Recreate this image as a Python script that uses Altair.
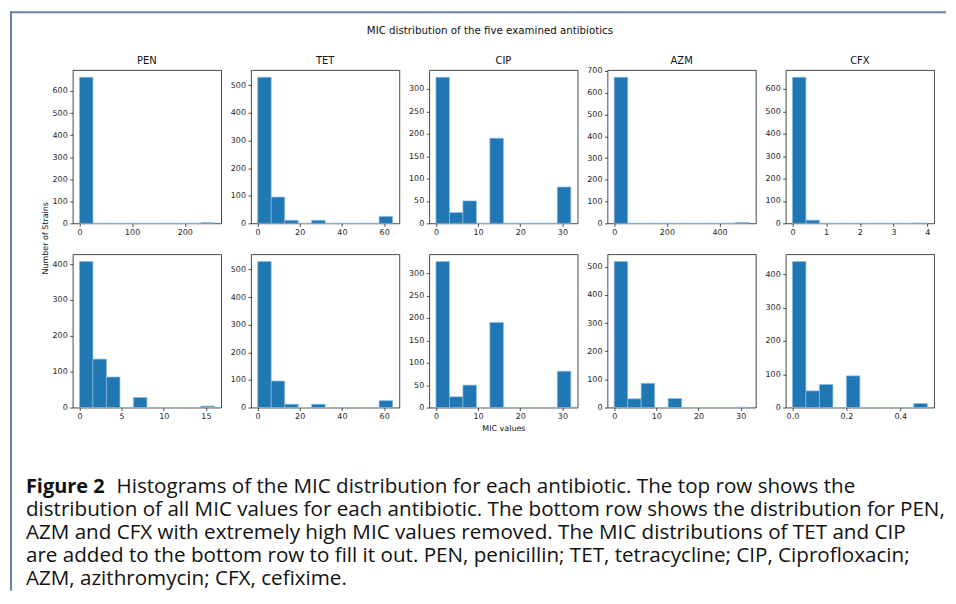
import altair as alt
import numpy as np
import pandas as pd

NAMES = ["PEN", "TET", "CIP", "AZM", "CFX"]

# top row: all MIC values (10 bins between min and max)
TOP_RANGE = {"PEN": (0, 256), "TET": (0.125, 64), "CIP": (0, 32), "AZM": (0, 512), "CFX": (0, 4)}
TOP_COUNTS = {
    "PEN": [662, 0, 0, 0, 0, 0, 0, 0, 0, 3],
    "TET": [529, 95, 11, 0, 11, 0, 0, 0, 0, 25],
    "CIP": [326, 24, 50, 0, 190, 0, 0, 0, 0, 81],
    "AZM": [671, 0, 0, 0, 0, 0, 0, 0, 0, 4],
    "CFX": [652, 14, 0, 0, 0, 0, 0, 0, 0, 1],
}
TOP_XTICKS = {"PEN": [0, 100, 200], "TET": [0, 20, 40, 60], "CIP": [0, 10, 20, 30],
              "AZM": [0, 200, 400], "CFX": [0, 1, 2, 3, 4]}
TOP_YTICKS = {"PEN": [0, 100, 200, 300, 400, 500, 600], "TET": [0, 100, 200, 300, 400, 500],
              "CIP": [0, 50, 100, 150, 200, 250, 300], "AZM": [0, 100, 200, 300, 400, 500, 600, 700],
              "CFX": [0, 100, 200, 300, 400, 500, 600]}

# bottom row: extreme values removed for PEN, AZM, CFX
BOT_RANGE = {"PEN": (0, 16), "TET": (0.125, 64), "CIP": (0, 32), "AZM": (0, 32), "CFX": (0, 0.5)}
BOT_COUNTS = {
    "PEN": [407, 135, 85, 0, 28, 0, 0, 0, 0, 4],
    "TET": [529, 96, 12, 0, 12, 0, 0, 0, 0, 25],
    "CIP": [326, 24, 50, 0, 190, 0, 0, 0, 0, 81],
    "AZM": [519, 31, 86, 0, 32, 0, 0, 0, 0, 1],
    "CFX": [438, 50, 69, 0, 95, 0, 0, 0, 0, 12],
}
BOT_XTICKS = {"PEN": [0, 5, 10, 15], "TET": [0, 20, 40, 60], "CIP": [0, 10, 20, 30],
              "AZM": [0, 10, 20, 30], "CFX": [0.0, 0.2, 0.4]}
BOT_YTICKS = {"PEN": [0, 100, 200, 300, 400], "TET": [0, 100, 200, 300, 400, 500],
              "CIP": [0, 50, 100, 150, 200, 250, 300], "AZM": [0, 100, 200, 300, 400, 500],
              "CFX": [0, 100, 200, 300, 400]}
BOT_XFMT = {"CFX": ".1f"}

SUPTITLE = "MIC distribution of the five examined antibiotics"
YLABEL = "Number of Strains"
XLABEL = "MIC values"
CAPTION_BOLD = "Figure 2"
CAPTION_LINES = [
    "Histograms of the MIC distribution for each antibiotic. The top row shows the",
    "distribution of all MIC values for each antibiotic. The bottom row shows the distribution for PEN,",
    "AZM and CFX with extremely high MIC values removed. The MIC distributions of TET and CIP",
    "are added to the bottom row to fill it out. PEN, penicillin; TET, tetracycline; CIP, Ciprofloxacin;",
    "AZM, azithromycin; CFX, cefixime.",
]

BLUE = "#1f77b4"
W, H = 149, 154
MPL_FONT = "DejaVu Sans"
CAP_FONT = "Open Sans"
CAP_SIZE = 20.7


def axis(values, fmt=None):
    kw = dict(values=values, grid=False, domain=False, tickSize=3, tickWidth=0.8,
              tickColor="#222", labelFontSize=8, labelFont=MPL_FONT, labelColor="#222",
              labelPadding=2.5, title=None, labelFlush=False, labelOverlap=False)
    if fmt:
        kw["format"] = fmt
    return alt.Axis(**kw)


def panel(rng, counts, xticks, yticks, xfmt=None):
    lo, hi = rng
    edges = np.linspace(lo, hi, len(counts) + 1)
    df = pd.DataFrame({"x0": edges[:-1], "x1": edges[1:], "count": counts})
    span = hi - lo
    xdom = [lo - 0.05 * span, hi + 0.05 * span]
    ydom = [0, 1.05 * max(counts)]
    return alt.Chart(df).mark_bar(color=BLUE, stroke="#8fb8de", strokeWidth=0.7).encode(
        x=alt.X("x0:Q", scale=alt.Scale(domain=xdom, nice=False, zero=False), axis=axis(xticks, xfmt)),
        x2="x1:Q",
        y=alt.Y("count:Q", scale=alt.Scale(domain=ydom, nice=False, zero=True), axis=axis(yticks)),
        y2=alt.datum(0),
    ).properties(width=W, height=H)


one = pd.DataFrame({"k": [0]})


def txt(s, x, y, size, font, weight="normal", align="left", baseline="alphabetic", angle=0, color="#111"):
    return alt.Chart(one).mark_text(text=s, fontSize=size, font=font, fontWeight=weight, align=align,
                                    baseline=baseline, angle=angle, color=color).encode(
        x=alt.value(x), y=alt.value(y))


# annotation marks placed relative to the bottom-left panel's plot area (page x=71, y=252)
OX, OY = 71, 252
ann = [
    alt.Chart(one).mark_rule(color="#6683a3", strokeWidth=2).encode(
        x=alt.value(9 - OX), y=alt.value(8 - OY), y2=alt.value(590 - OY)),
    alt.Chart(one).mark_rule(color="#6683a3", strokeWidth=2).encode(
        x=alt.value(8 - OX), x2=alt.value(948 - OX), y=alt.value(9 - OY)),
    txt(SUPTITLE, 490 - OX, 27.5 - OY, 10.3, MPL_FONT, align="center", baseline="middle"),
    txt(YLABEL, 44 - OX, 236 - OY, 8, MPL_FONT, align="center", baseline="middle", angle=270),
    txt(XLABEL, 504 - OX, 428 - OY, 8, MPL_FONT, align="center", baseline="middle"),
    txt(CAPTION_BOLD, 24 - OX, 492 - OY, 20, CAP_FONT, weight="bold"),
]
base_lines = [492, 515, 538, 561, 584]
for i, line in enumerate(CAPTION_LINES):
    x0 = 115 if i == 0 else 24
    ann.append(txt(line, x0 - OX, base_lines[i] - OY, CAP_SIZE, CAP_FONT))

panels = []
for n in NAMES:
    t = panel(TOP_RANGE[n], TOP_COUNTS[n], TOP_XTICKS[n], TOP_YTICKS[n])
    t = alt.layer(t, txt(n, W / 2, -8.7, 10, MPL_FONT, align="center", baseline="middle"))
    panels.append(t)
for i, n in enumerate(NAMES):
    b = panel(BOT_RANGE[n], BOT_COUNTS[n], BOT_XTICKS[n], BOT_YTICKS[n], BOT_XFMT.get(n))
    if i == 0:
        b = alt.layer(b, *ann)
    panels.append(b)

chart = alt.concat(
    *panels, columns=5, spacing={"row": 31, "column": 30}, bounds="flush",
).properties(padding=0, background="white").configure_view(stroke="#333", strokeWidth=0.9)

chart.save("out.html", embed_options={"renderer": "svg", "actions": False})
